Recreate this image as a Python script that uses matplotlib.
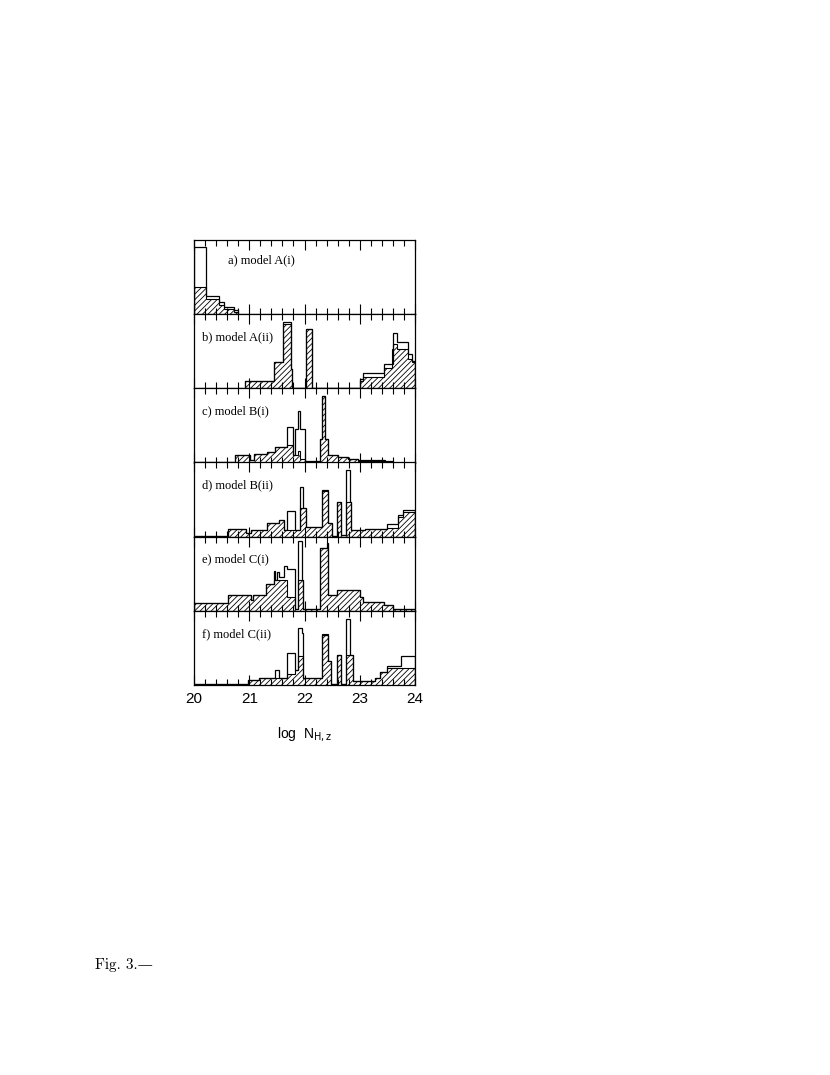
import matplotlib
matplotlib.use("Agg")
import matplotlib.pyplot as plt
from matplotlib.ticker import MultipleLocator

# ---------------- data (heights as fraction of panel height) ----------------
labels = ["a) model A(i)", "b) model A(ii)", "c) model B(i)",
          "d) model B(ii)", "e) model C(i)", "f) model C(ii)"]

a_edges = [20.0, 20.21, 20.46, 20.55, 20.73, 20.80]
a_open = [0.91, 0.25, 0.17, 0.10, 0.05]
a_hatch = [0.37, 0.21, 0.12, 0.07, 0.03]

b_edges = [20.93, 21.45, 21.61, 21.75, 21.77, 22.02, 22.14, 23.0, 23.06,
           23.44, 23.58, 23.61, 23.67, 23.87, 23.94, 24.0]
b_open = [0.10, 0.35, 0.90, 0.26, 0.0, 0.80, 0.0, 0.12, 0.21,
          0.33, 0.33, 0.74, 0.62, 0.46, 0.37]
b_hatch = [0.10, 0.35, 0.87, 0.26, 0.0, 0.80, 0.0, 0.10, 0.15,
           0.28, 0.53, 0.60, 0.53, 0.40, 0.35]

c_edges = [20.0, 20.74, 21.01, 21.09, 21.32, 21.47, 21.68, 21.80, 21.83,
           21.89, 21.92, 22.01, 22.28, 22.31, 22.37, 22.43, 22.61, 22.79,
           22.97, 23.46, 23.61]
c_open = [0.01, 0.10, 0.03, 0.12, 0.14, 0.21, 0.48, 0.10, 0.45,
          0.70, 0.45, 0.02, 0.32, 0.90, 0.32, 0.10, 0.08, 0.045,
          0.03, 0.02]
c_hatch = [0.01, 0.10, 0.03, 0.12, 0.14, 0.21, 0.24, 0.10, 0.10,
           0.15, 0.05, 0.01, 0.32, 0.90, 0.32, 0.10, 0.08, 0.045,
           0.02, 0.01]

d_edges = [20.0, 20.62, 20.95, 21.04, 21.33, 21.53, 21.62, 21.68, 21.83,
           21.92, 21.98, 22.02, 22.31, 22.43, 22.49, 22.58, 22.66, 22.76,
           22.82, 22.85, 23.09, 23.49, 23.70, 23.79, 24.0]
d_open = [0.01, 0.10, 0.045, 0.09, 0.18, 0.22, 0.09, 0.34, 0.09,
          0.67, 0.38, 0.13, 0.63, 0.18, 0.01, 0.47, 0.02, 0.90,
          0.47, 0.09, 0.10, 0.17, 0.29, 0.36]
d_hatch = [0.01, 0.10, 0.045, 0.09, 0.18, 0.22, 0.09, 0.09, 0.09,
           0.38, 0.38, 0.13, 0.61, 0.18, 0.01, 0.47, 0.02, 0.47,
           0.47, 0.09, 0.10, 0.12, 0.26, 0.33]

e_edges = [20.0, 20.62, 21.03, 21.07, 21.30, 21.45, 21.47, 21.51, 21.53,
           21.62, 21.68, 21.83, 21.89, 21.95, 21.98, 22.28, 22.40, 22.43,
           22.58, 23.01, 23.06, 23.43, 23.61, 24.0]
e_open = [0.10, 0.22, 0.14, 0.21, 0.36, 0.54, 0.42, 0.52, 0.45, 0.61,
          0.56, 0.02, 0.94, 0.41, 0.02, 0.85, 0.92, 0.21, 0.28,
          0.19, 0.12, 0.08, 0.03]
e_hatch = [0.10, 0.22, 0.14, 0.21, 0.36, 0.41, 0.41, 0.41, 0.41, 0.41,
           0.19, 0.02, 0.41, 0.41, 0.02, 0.85, 0.85, 0.21, 0.28,
           0.19, 0.12, 0.08, 0.03]

f_edges = [20.0, 20.98, 21.17, 21.47, 21.53, 21.68, 21.83, 21.89, 21.95,
           21.98, 22.31, 22.43, 22.48, 22.58, 22.66, 22.76, 22.82, 22.88,
           23.28, 23.37, 23.50, 23.75, 24.0]
f_open = [0.01, 0.07, 0.10, 0.20, 0.10, 0.43, 0.20, 0.77, 0.70,
          0.10, 0.68, 0.33, 0.01, 0.41, 0.01, 0.89, 0.40, 0.05,
          0.10, 0.17, 0.26, 0.39]
f_hatch = [0.01, 0.07, 0.10, 0.10, 0.10, 0.15, 0.20, 0.39, 0.39,
           0.10, 0.69, 0.33, 0.01, 0.41, 0.01, 0.40, 0.40, 0.05,
           0.10, 0.17, 0.23, 0.23]

panels = [(a_edges, a_open, a_hatch), (b_edges, b_open, b_hatch),
          (c_edges, c_open, c_hatch), (d_edges, d_open, d_hatch),
          (e_edges, e_open, e_hatch), (f_edges, f_open, f_hatch)]

x_ticks = [20, 21, 22, 23, 24]

# ---------------- figure ----------------
plt.rcParams["hatch.linewidth"] = 0.6
W, H = 830, 1075
fig = plt.figure(figsize=(W / 100, H / 100), dpi=100)

left_px, right_px = 194, 415
top_px, bot_px = 240, 685
ph = (bot_px - top_px) / 6.0

serif = ["Liberation Serif", "DejaVu Serif"]

for i, (edges, op, ht) in enumerate(panels):
    y0 = top_px + i * ph
    ax = fig.add_axes([left_px / W, 1 - (y0 + ph) / H,
                       (right_px - left_px) / W, ph / H])
    ax.stairs(ht, edges, baseline=0, fill=True, facecolor="none",
              edgecolor="black", hatch="//////", linewidth=0.8)
    ax.stairs(op, edges, baseline=0, fill=False, color="black",
              linewidth=0.9)
    ax.set_xlim(20, 24)
    ax.set_ylim(0, 1)
    ax.set_yticks([])
    ax.xaxis.set_major_locator(MultipleLocator(1))
    ax.xaxis.set_minor_locator(MultipleLocator(0.2))
    ax.tick_params(axis="x", which="both", direction="in", top=True,
                   bottom=True, width=0.8)
    ax.tick_params(axis="x", which="major", length=7)
    ax.tick_params(axis="x", which="minor", length=4)
    for sp in ax.spines.values():
        sp.set_linewidth(0.9)
    if i == 0:
        ax.text(0.154, 0.73, labels[i], transform=ax.transAxes,
                fontsize=9, family=serif, va="center", ha="left")
    else:
        ax.text(0.036, 0.69, labels[i], transform=ax.transAxes,
                fontsize=9, family=serif, va="center", ha="left")
    if i == 5:
        ax.set_xticks(x_ticks)
        ax.set_xticklabels([str(t) for t in x_ticks], family="Liberation Sans",
                           fontsize=11)
        ax.tick_params(axis="x", which="major", pad=5)
        ax.set_xlabel(r"log  N$_{\rm H,z}$", family="Liberation Sans",
                      fontsize=10, labelpad=14)
    else:
        ax.set_xticklabels([])

fig.text(95 / W, 1 - 965 / H, "Fig. 3.—", family=["cmr10", "DejaVu Serif"],
         fontsize=11, va="center", ha="left")

fig.savefig("out.png", dpi=100)
